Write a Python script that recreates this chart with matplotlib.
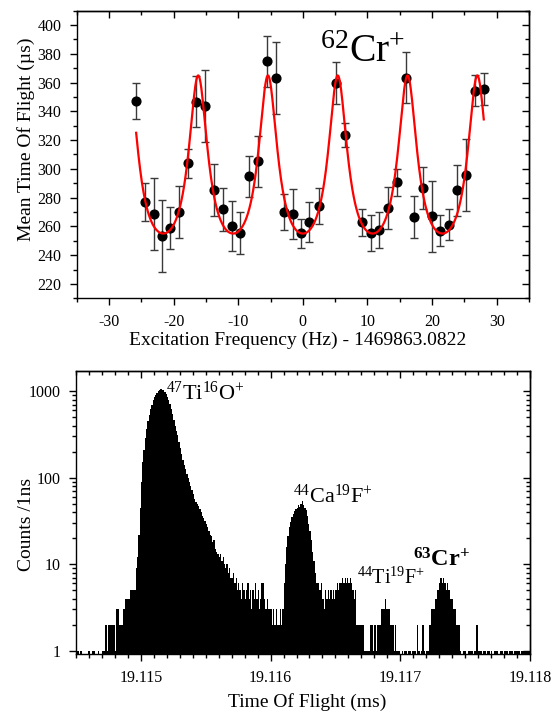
import numpy as np
import matplotlib
matplotlib.use("Agg")
import matplotlib.pyplot as plt
from matplotlib.ticker import MultipleLocator, FixedLocator, FuncFormatter, NullFormatter, LogLocator

plt.rcParams['font.family'] = ['Liberation Serif', 'DejaVu Serif']
plt.rcParams['mathtext.fontset'] = 'custom'
plt.rcParams['mathtext.rm'] = 'Liberation Serif'
plt.rcParams['mathtext.it'] = 'Liberation Serif:italic'
plt.rcParams['mathtext.bf'] = 'Liberation Serif:bold'
plt.rcParams['axes.linewidth'] = 1.0

# ---------------- top panel data: 62Cr+ resonance ----------------
freq = [-25.8, -24.5, -23.1, -21.8, -20.5, -19.1, -17.8, -16.5, -15.1, -13.75,
        -12.3, -11.0, -9.65, -8.3, -7.0, -5.6, -4.2, -2.9, -1.6, -0.26,
        1.0, 2.5, 5.1, 6.5, 9.2, 10.5, 11.85, 13.2, 14.55, 15.9,
        17.2, 18.55, 19.95, 21.3, 22.6, 23.9, 25.3, 26.7, 28.0]
mean_tof = [347.3, 276.9, 268.5, 253.4, 258.8, 269.9, 303.8, 346.8, 344.0, 285.5,
            271.8, 260.1, 255.3, 294.8, 305.2, 374.9, 363.1, 269.7, 268.5, 255.3,
            262.9, 274.1, 359.8, 323.8, 262.9, 255.3, 257.6, 273.0, 290.6, 363.5,
            266.4, 286.6, 266.9, 257.1, 261.3, 285.2, 295.5, 354.5, 355.6]
tof_err = [12.5, 13, 25, 25, 14.4, 18, 10, 18, 25, 18,
           15, 17.5, 14.5, 14.5, 17.5, 17.7, 25, 12.5, 17.5, 10,
           14, 12.5, 14.5, 8.4, 9.4, 12.5, 12.5, 14.5, 9.4, 17.6,
           14.5, 14.5, 25, 11, 10.8, 17.8, 25, 11, 11.4]

# fitted resonance parameters
fit_offset = 221.7
fit_amp = 143.3
fit_finesse = 3.3
fit_period = 10.8
fit_center = 5.4
fit_start, fit_stop = -25.8, 28.0

# ---------------- bottom panel data: TOF histogram (counts, 10 ns bins) ----------------
# each segment: start time (ns after 19.115 ms) and counts per bin
bin_ns = 10
pre_start = -500
pre_counts = [1, 1, 0, 1, 1, 0, 0, 0, 0, 1, 1, 0, 1, 1, 1, 0, 0, 1, 0, 0,
              1, 1, 2, 2, 1, 2, 2, 2, 2, 2, 1, 3, 3, 2, 2, 2, 3, 3, 4, 4,
              4, 4, 5, 5, 5, 5, 9]
tio_start = -30
tio_counts = [12, 22, 45, 90, 150, 210, 290, 370, 450, 530, 620, 700, 780, 850, 910,
              960, 1000, 1030, 1050, 1045, 1020, 980, 920, 850, 780, 710, 620, 540, 470, 400,
              350, 310, 260, 220, 190, 160, 140, 125, 110, 98, 88, 80, 72, 64, 57,
              53, 50, 47, 44, 40, 36, 34, 32, 29, 27, 24, 22, 21, 18, 19,
              15, 14, 13, 12, 13, 11, 12, 10, 9, 10, 8, 9, 7, 7]
tail_start = 710
tail_counts = [8, 6, 7, 5, 6, 5, 4, 6, 5, 4, 5, 6, 4, 5, 3, 5, 4, 6, 4, 5,
               3, 4, 6, 6, 4, 3, 4, 3, 3, 3, 2, 3, 2, 3, 2, 2, 3, 2]
caf_start = 1090
caf_counts = [3, 6, 10, 16, 21, 27, 31, 35, 38, 41, 44, 45, 48, 46, 50, 54, 49, 45, 42, 36,
              29, 24, 19, 14, 11, 8, 6, 6, 5, 5, 6, 4, 3, 5, 4, 5, 4, 5, 4, 5,
              4, 5, 6, 5, 6, 6, 7, 6, 7, 6, 7, 6, 7, 6, 5, 4, 5]
tif_start = 1660
tif_counts = [2, 2, 2, 2, 2, 2, 1, 1, 1, 1, 1, 2, 2, 1, 2, 1, 2, 2, 2, 3,
              3, 3, 4, 3, 3, 3, 2, 2, 2, 1, 2, 1, 1, 1, 0, 1, 0, 1, 1, 0,
              1, 1, 0, 1, 1, 1, 0, 2, 1, 0, 1, 2, 1, 0]
cr_start = 2200
cr_counts = [1, 1, 2, 2, 3, 3, 3, 4, 5, 5, 6, 7, 6, 7, 6, 5, 6, 5, 4, 4,
             4, 3, 3, 2, 2, 2, 1, 0, 1, 1, 1, 0, 1, 1, 1, 1, 0, 1, 2, 2,
             1, 1, 1, 0, 1, 1, 0, 1, 1, 0, 1, 0, 1, 1, 1, 0, 0, 1, 1, 0,
             1, 1, 1, 0, 1, 1, 1, 0, 1, 1, 1, 1, 0, 1, 1, 1, 1, 1, 1, 1]
segments = [(pre_start, pre_counts), (tio_start, tio_counts), (tail_start, tail_counts),
            (caf_start, caf_counts), (tif_start, tif_counts), (cr_start, cr_counts)]
tof_ref_ms = 19.115

# ---------------- figure ----------------
fig = plt.figure(figsize=(5.57, 7.13), dpi=100)
W, H = 557.0, 713.0
ax1 = fig.add_axes([76.7 / W, 1 - 298.3 / H, (529 - 76.7) / W, (298.3 - 10.7) / H])
ax2 = fig.add_axes([76.0 / W, 1 - 654.3 / H, (530 - 76.0) / W, (654.3 - 371.0) / H])

# top panel
ax1.errorbar(freq, mean_tof, yerr=tof_err, fmt='o', color='black', ms=6.3,
             ecolor='#3a3a3a', elinewidth=1.0, capsize=3.2, capthick=1.0, zorder=3)
xf = np.linspace(fit_start, fit_stop, 800)
yf = fit_offset + fit_amp / (1 + fit_finesse * np.sin(np.pi * (xf - fit_center) / fit_period) ** 2)
ax1.plot(xf, yf, color='red', lw=1.6, zorder=4)
ax1.set_xlim(-35, 35)
ax1.set_ylim(210, 410)
ax1.xaxis.set_major_locator(MultipleLocator(10))
ax1.xaxis.set_minor_locator(MultipleLocator(5))
ax1.yaxis.set_major_locator(MultipleLocator(20))
ax1.yaxis.set_minor_locator(MultipleLocator(10))
ax1.xaxis.set_major_formatter(FuncFormatter(lambda v, p: f'{v:.0f}'))
ax1.text(2.7, 374.4, r'$^{62}$Cr$^{+}$', fontsize=28.5, ha='left', va='baseline')

# bottom panel
for start, cnts in segments:
    c = np.asarray(cnts, dtype=float)
    edges = tof_ref_ms + (start + bin_ns * np.arange(len(c) + 1)) * 1e-6
    ax2.stairs(np.where(c > 0, c, 0.5), edges, baseline=0.5, fill=True,
               color='black', lw=0)
ax2.set_yscale('log')
ax2.set_xlim(19.1145, 19.118)
ax2.set_ylim(0.91, 1710)
ax2.xaxis.set_major_locator(FixedLocator([19.115, 19.116, 19.117, 19.118]))
ax2.xaxis.set_minor_locator(MultipleLocator(0.0001))
ax2.xaxis.set_major_formatter(FuncFormatter(lambda v, p: f'{v:.3f}'))
ax2.yaxis.set_major_locator(FixedLocator([1, 10, 100, 1000]))
ax2.yaxis.set_minor_locator(LogLocator(base=10, subs=np.arange(2, 10)))
ax2.yaxis.set_major_formatter(FuncFormatter(lambda v, p: f'{v:.0f}'))
ax2.yaxis.set_minor_formatter(NullFormatter())

ax2.text(19.115193, 791, r'$^{47}$Ti$^{16}$O$^{+}$', fontsize=16, ha='left', va='baseline')
ax2.text(19.116172, 50.6, r'$^{44}$Ca$^{19}$F$^{+}$', fontsize=16, ha='left', va='baseline')
ax2.text(19.116666, 6.0, r'$^{44}$Ti$^{19}$F$^{+}$', fontsize=14.5, ha='left', va='baseline')
ax2.text(19.117099, 9.36, r'$\mathbf{^{63}Cr^{+}}$', fontsize=17.5, ha='left', va='baseline')

# ticks: outward on left/bottom, inward mirrored on top/right
for ax in (ax1, ax2):
    ax.tick_params(which='both', direction='out', top=False, right=False, labelsize=11.5, pad=6)
    ax.tick_params(which='major', length=5, width=1.0)
    ax.tick_params(which='minor', length=3, width=1.0)
    sx = ax.secondary_xaxis('top')
    sx.xaxis.set_major_locator(ax.xaxis.get_major_locator())
    sx.xaxis.set_minor_locator(ax.xaxis.get_minor_locator())
    sx.xaxis.set_major_formatter(NullFormatter())
    sx.tick_params(which='both', direction='in')
    sx.tick_params(which='major', length=5, width=1.0)
    sx.tick_params(which='minor', length=3, width=1.0)
    sy = ax.secondary_yaxis('right')
    sy.yaxis.set_major_locator(ax.yaxis.get_major_locator())
    sy.yaxis.set_minor_locator(ax.yaxis.get_minor_locator())
    sy.yaxis.set_major_formatter(NullFormatter())
    sy.yaxis.set_minor_formatter(NullFormatter())
    sy.tick_params(which='both', direction='in')
    sy.tick_params(which='major', length=5, width=1.0)
    sy.tick_params(which='minor', length=3, width=1.0)

fig.text(26.5 / W, 1 - 139 / H, 'Mean Time Of Flight (\u00b5s)', rotation=90,
         ha='center', va='center', fontsize=14)
fig.text(297.5 / W, 1 - 340 / H, 'Excitation Frequency (Hz) - 1469863.0822',
         ha='center', va='center', fontsize=14)
fig.text(26.5 / W, 1 - 524 / H, 'Counts /1ns', rotation=90,
         ha='center', va='center', fontsize=14)
fig.text(307 / W, 1 - 702 / H, 'Time Of Flight (ms)', ha='center', va='center', fontsize=14)

fig.savefig('out.png', dpi=100)
